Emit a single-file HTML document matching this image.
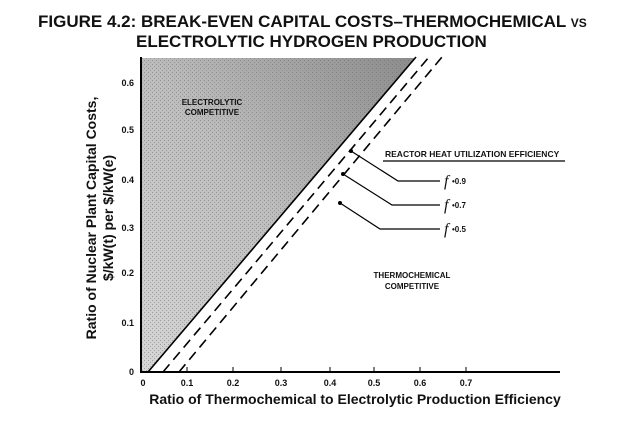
<!DOCTYPE html>
<html><head><meta charset="utf-8"><style>
html,body{margin:0;padding:0;background:#fff;}
body{width:628px;height:425px;overflow:hidden;position:relative;font-family:"Liberation Sans",sans-serif;}
</style></head><body>
<svg width="628" height="425" viewBox="0 0 628 425" xmlns="http://www.w3.org/2000/svg" style="position:absolute;left:0;top:0">
<defs>
<linearGradient id="g" x1="0" y1="1" x2="1" y2="0">
<stop offset="0" stop-color="#d6d6d6"/><stop offset="0.5" stop-color="#bdbdbd"/><stop offset="1" stop-color="#8c8c8c"/>
</linearGradient>
<pattern id="p" width="4" height="4" patternUnits="userSpaceOnUse">
<rect x="0" y="0" width="1" height="1" fill="#666"/><rect x="2" y="2" width="1" height="1" fill="#777"/>
</pattern>
</defs>
<g font-weight="bold" font-size="17" fill="#111">
<text x="38" y="27">FIGURE 4.2:  BREAK-EVEN CAPITAL COSTS–THERMOCHEMICAL <tspan font-size="12">VS</tspan></text>
<text x="136" y="47">ELECTROLYTIC HYDROGEN PRODUCTION</text>
</g>
<polygon points="141,58 415,58 148,372 141,372" fill="url(#g)"/>
<polygon points="141,58 415,58 148,372 141,372" fill="url(#p)" opacity="0.5"/>
<line x1="141" y1="57" x2="141" y2="373" stroke="#000" stroke-width="2"/>
<line x1="140" y1="372" x2="560" y2="372" stroke="#000" stroke-width="2"/>
<line x1="148" y1="372" x2="416" y2="57" stroke="#000" stroke-width="1.6"/>
<line x1="163" y1="372" x2="429" y2="57" stroke="#000" stroke-width="1.6" stroke-dasharray="10,6"/>
<line x1="179" y1="372" x2="442" y2="57" stroke="#000" stroke-width="1.6" stroke-dasharray="10,6"/>
<g stroke="#000" stroke-width="1">
<line x1="187" y1="372" x2="187" y2="367"/><line x1="233" y1="372" x2="233" y2="367"/>
<line x1="281" y1="372" x2="281" y2="367"/><line x1="330" y1="372" x2="330" y2="367"/>
<line x1="374" y1="372" x2="374" y2="367"/><line x1="420" y1="372" x2="420" y2="367"/>
<line x1="466" y1="372" x2="466" y2="367"/>
</g>
<g font-size="9" font-weight="bold" fill="#111" text-anchor="middle">
<text x="143" y="386">0</text><text x="187" y="386">0.1</text><text x="233" y="386">0.2</text>
<text x="281" y="386">0.3</text><text x="330" y="386">0.4</text><text x="374" y="386">0.5</text>
<text x="420" y="386">0.6</text><text x="466" y="386">0.7</text>
</g>
<g font-size="9" font-weight="bold" fill="#111" text-anchor="end">
<text x="134" y="375">0</text><text x="134" y="326">0.1</text><text x="134" y="276">0.2</text>
<text x="134" y="231">0.3</text><text x="134" y="183">0.4</text><text x="134" y="133">0.5</text>
<text x="134" y="86">0.6</text>
</g>
<text x="355" y="404" font-size="14" font-weight="bold" fill="#111" text-anchor="middle">Ratio of Thermochemical to Electrolytic Production Efficiency</text>
<g font-size="14" font-weight="bold" fill="#111" text-anchor="middle">
<text transform="translate(96,218) rotate(-90)">Ratio of Nuclear Plant Capital Costs,</text>
<text transform="translate(113,218) rotate(-90)">$/kW(t) per $/kW(e)</text>
</g>
<g font-size="8" font-weight="bold" fill="#111" text-anchor="middle">
<text x="212" y="105">ELECTROLYTIC</text><text x="212" y="115">COMPETITIVE</text>
<text x="412" y="278">THERMOCHEMICAL</text><text x="412" y="289">COMPETITIVE</text>
</g>
<text x="385" y="157" font-size="8.5" font-weight="bold" fill="#111">REACTOR HEAT UTILIZATION EFFICIENCY</text>
<line x1="383" y1="161" x2="565" y2="161" stroke="#000" stroke-width="1.3"/>
<g stroke="#000" stroke-width="1.2" fill="none">
<polyline points="351,151 398,181 440,181"/>
<polyline points="343,174 392,205 440,205"/>
<polyline points="340,203 380,229 440,229"/>
</g>
<g fill="#000"><circle cx="351" cy="151" r="2"/><circle cx="343" cy="174" r="2"/><circle cx="340" cy="203" r="2"/></g>
<g font-family="Liberation Serif,serif" font-style="italic" font-size="16" fill="#111">
<text x="444" y="186">f</text><text x="444" y="210">f</text><text x="444" y="234">f</text>
</g>
<g font-size="8" font-weight="bold" fill="#111">
<text x="452" y="184">•0.9</text><text x="452" y="208">•0.7</text><text x="452" y="232">•0.5</text>
</g>
</svg>
</body></html>
